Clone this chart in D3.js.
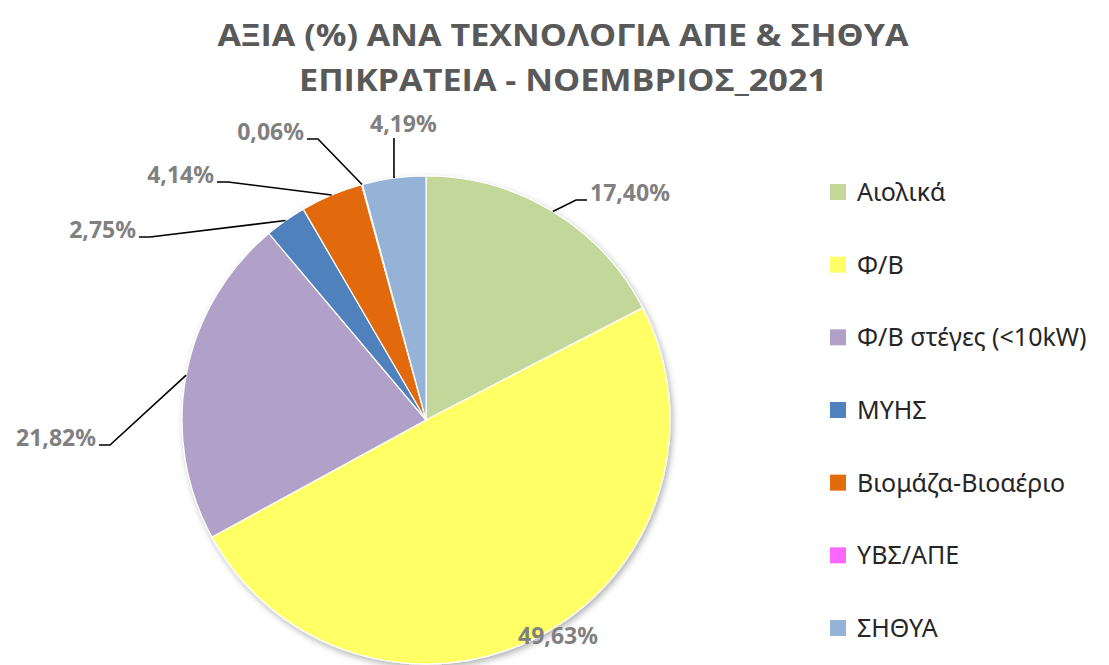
<!DOCTYPE html>
<html><head><meta charset="utf-8">
<script src="https://cdn.jsdelivr.net/npm/d3@7/dist/d3.min.js"></script>
<style>
html,body{margin:0;padding:0;background:#fff;}
svg{display:block;}
</style></head>
<body>
<svg id="chart" width="1109" height="665"></svg>
<script>
const titleLines = ["ΑΞΙΑ (%) ΑΝΑ ΤΕΧΝΟΛΟΓΙΑ ΑΠΕ & ΣΗΘΥΑ", "ΕΠΙΚΡΑΤΕΙΑ - ΝΟΕΜΒΡΙΟΣ_2021"];
const titleWidths = [691, 528];
const categories = ["Αιολικά", "Φ/Β", "Φ/Β στέγες (<10kW)", "ΜΥΗΣ", "Βιομάζα-Βιοαέριο", "ΥΒΣ/ΑΠΕ", "ΣΗΘΥΑ"];
const values = [17.40, 49.63, 21.82, 2.75, 4.14, 0.06, 4.19];
const colors = ["#C4D79B", "#FFFF66", "#B1A0C7", "#4F81BD", "#E26B0A", "#FF66FF", "#95B3D7"];

// label layout (elbow offsets relative to pie centre, text side)
const labelLayout = [
  {ex: 150, ey: -220, side: 1},
  {inside: true, tx: 132, ty: 224},
  {ex: -316, ey: 25, side: -1},
  {ex: -276, ey: -183, side: -1},
  {ex: -198, ey: -238, side: -1},
  {ex: -108, ey: -281, side: -1},
  {ex: -32, ey: -282, side: 0}
];

const svg = d3.select("#chart");
const cx = 426, cy = 420, R = 244;

const defs = svg.append("defs");
const f = defs.append("filter").attr("id","shadow").attr("x","-10%").attr("y","-10%").attr("width","120%").attr("height","120%");
f.append("feDropShadow").attr("dx",2).attr("dy",3).attr("stdDeviation",3).attr("flood-color","#000").attr("flood-opacity",0.3);

// Title
svg.append("g").selectAll("text").data(titleLines).join("text")
  .attr("x", 563).attr("y", (d,i)=> 46 + i*45)
  .attr("text-anchor","middle")
  .attr("font-family","'Open Sans', 'Noto Sans', sans-serif")
  .attr("font-weight","bold").attr("font-size", 31)
  .attr("textLength", (d,i)=>titleWidths[i]).attr("lengthAdjust","spacingAndGlyphs")
  .attr("fill","#595959")
  .text(d=>d);

const fmt = v => v.toFixed(2).replace(".", ",") + "%";

const pie = d3.pie().sort(null).value(d=>d.v);
const data = pie(values.map((v,i)=>({v, c: categories[i], col: colors[i], i})));
const arc = d3.arc().innerRadius(0).outerRadius(R);

const g = svg.append("g").attr("transform", `translate(${cx},${cy})`);
g.append("g").attr("filter","url(#shadow)").selectAll("path").data(data).join("path")
  .attr("d", arc).attr("fill", d=>d.data.col)
  .attr("stroke","#fff").attr("stroke-width",1.2);

// labels
const lab = g.append("g");
data.forEach((d,i)=>{
  const L = labelLayout[i];
  const text = fmt(d.data.v);
  const style = t => t.attr("font-family","'Noto Sans', sans-serif").attr("font-weight","bold")
      .attr("font-size",23).attr("fill","#808080");
  if (L.inside) {
    style(lab.append("text").attr("x", L.tx).attr("y", L.ty).attr("text-anchor","middle").text(text));
    return;
  }
  const a = (d.startAngle + d.endAngle)/2;
  const px = R*Math.sin(a), py = -R*Math.cos(a);
  let pts;
  if (L.side === 0) {
    pts = [[px,py],[px,L.ey]];
    style(lab.append("text").attr("x", px-24).attr("y", L.ey-6).attr("text-anchor","start").text(text));
  } else {
    const tail = L.ex + L.side*11;
    pts = [[px,py],[L.ex,L.ey],[tail,L.ey]];
    style(lab.append("text").attr("x", tail + L.side*3).attr("y", L.ey+1)
      .attr("text-anchor", L.side>0 ? "start":"end").text(text));
  }
  lab.append("path").attr("d", d3.line()(pts)).attr("fill","none")
    .attr("stroke","#000").attr("stroke-width",1.6);
});

// legend
const legY = d3.scalePoint().domain(categories).range([192, 628]);
const leg = svg.append("g").selectAll("g").data(categories).join("g")
  .attr("transform", d=>`translate(830,${legY(d)})`);
leg.append("rect").attr("x",0).attr("y",-8).attr("width",16).attr("height",16)
  .attr("fill",(d,i)=>colors[i]);
leg.append("text").attr("x",27).attr("y",9)
  .attr("font-family","'Noto Sans', sans-serif").attr("font-size",25)
  .attr("fill","#262626").text(d=>d);
</script>
</body></html>
